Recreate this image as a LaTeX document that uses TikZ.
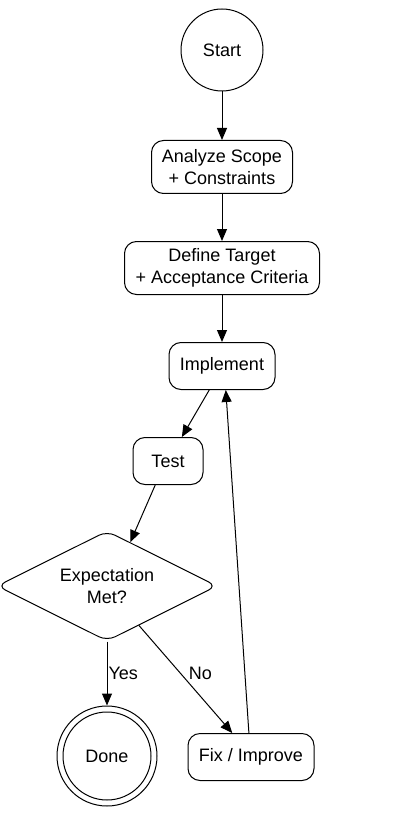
\documentclass[tikz,border=0pt]{standalone}
\usepackage{fontspec}
\setmainfont{Liberation Sans}
\usetikzlibrary{shapes.geometric,arrows.meta}
\begin{document}
\begin{tikzpicture}[x=1pt,y=-1pt,
  every node/.style={font=\fontsize{18}{21.5}\selectfont},
  box/.style={draw,line width=1pt,rectangle,rounded corners=12pt,inner sep=0pt,align=center},
  term/.style={draw,line width=1pt,circle,inner sep=0pt,align=center},
  dec/.style={draw,line width=1pt,diamond,aspect=2,rounded corners=9pt,inner sep=0pt,align=center,minimum width=220pt,minimum height=110pt},
  arr/.style={line width=1pt,-{Triangle[length=12pt,width=10pt]}},
  lbl/.style={inner sep=1pt}]
\useasboundingbox (0,0) rectangle (412,818);
\node[term,minimum size=82pt] (start) at (222,50) {Start};
\node[box,minimum width=141pt,minimum height=53pt] (analyze) at (222,167) {Analyze Scope\\+ Constraints};
\node[box,minimum width=195pt,minimum height=53pt] (define) at (222,268) {Define Target\\+ Acceptance Criteria};
\node[box,minimum width=106pt,minimum height=47pt] (impl) at (222,366) {Implement};
\node[box,minimum width=70pt,minimum height=47pt] (test) at (168,461) {Test};
\node[dec] (cond) at (107,586) {Expectation\\Met?};
\node[term,minimum size=100pt] (done) at (107,756) {Done};
\draw[line width=1pt] (done.center) circle (44pt);
\node[box,minimum width=126pt,minimum height=47pt] (fix) at (251,757) {Fix / Improve};
\draw[arr] (start) -- (analyze);
\draw[arr] (analyze) -- (define);
\draw[arr] (define) -- (impl);
\draw[arr] (impl.242) -- (test.60);
\draw[arr] (test.242) -- (cond.62);
\draw[arr] (cond.south) -- node[lbl,right] {Yes} (done.north);
\draw[arr] (cond.309) -- node[lbl,above right,pos=0.52] {No} (fix.128);
\draw[arr] (fix.95) -- (impl.279);
\end{tikzpicture}
\end{document}
